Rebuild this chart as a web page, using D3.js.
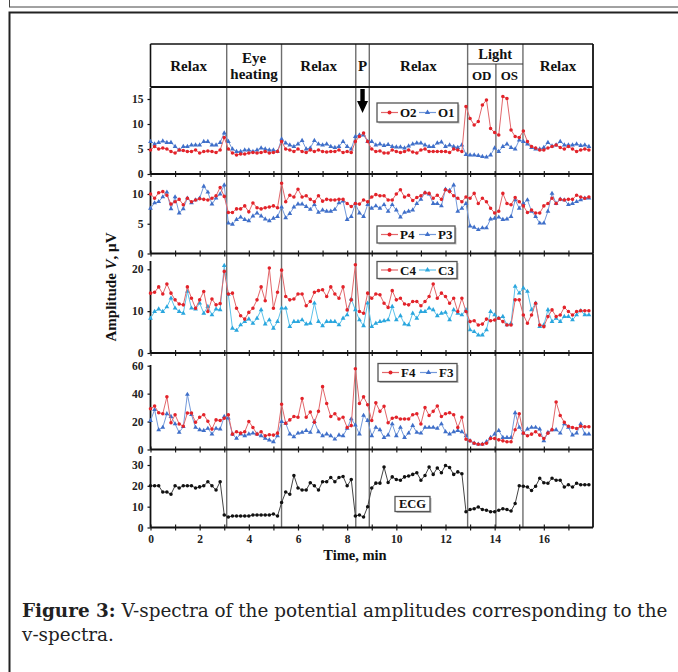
<!DOCTYPE html>
<html><head><meta charset="utf-8">
<script src="https://cdn.jsdelivr.net/npm/d3@7"></script>
<style>
html,body{margin:0;padding:0;background:#fff;}
svg{display:block;}
</style></head>
<body>
<svg id="chart" width="678" height="672"></svg>
<script>
// ---------------- DATA ----------------
const dt = 1/6; // sampling interval (min)
const O2 = [4.8,5.5,5,5.2,5,4.5,4.2,4.8,4.7,4.5,4.5,4.8,4.2,4.5,4.6,4.5,4.3,4.8, 7.3,
  5,4.2,3.8,4,4,4.2,4.3,4.2,4.3,4.5,4.2,4.3,4.5, 6.5,
  5,4.8,4.5,5,4.5,4.3,4.8,4.5,4.8,4.5,4.4,4.5,4.5,4.8,4.3,4.5,4.3, 6.5,7.5,8.2, 6.5,
  5,4.5,4.6,4.2,4.2,4.8,4.5,4.3,4.5,4.8,4.4,4.2,4.8,5,4.5,4.5,4.5,4.5,4.5,4.3,5,4.8,4.5,
  13.5,11.1,9.8,10.5,13.8,14.8,9.1, 8.3,7.8,15.5,15.1,8.8,7.5, 7.3,
  8.6,6.5,5.5,5.2,4.8,4.8,5.2,5.5,5.8,5.3,5,5.5,5,4.5,4.8,5,4.8];
const O1 = [6.5,6,6.3,6.6,6.3,6.3,5.5,4.8,5.5,5.5,5.8,5.8,5.8,6.5,6.5,5.8,5.8,6.3, 8.2,
  6.5,5,4.5,4.5,4.8,4.8,4.5,4.8,5.2,5,4.8,4.8,4.5, 7,
  6.2,5.8,5.5,6,6.7,5,5.2,6.7,6,5.8,6,5.5,5.3,5.5,6.5,5.5,5, 7.5,7.8,7.8, 6.5,
  6.5,5.8,6,5.7,5.9,5.5,5.4,5.4,5.2,5.6,6,6.2,6.2,5.8,5.5,5.5,6.2,6.4,5.5,5.8,5.5,5.3,5.8,
  3.9,3.8,3.8,3.7,3.5,3.4,3.8, 5.2,4.5,5.5,6,5.3,5, 6.8,
  6.5,6,5.3,5,5,5.3,6.3,5.6,5.8,6.5,5.8,5.8,5.8,6,5.7,5.8,5.5];
const P4 = [10,9.3,10.2,10.4,9.8,8.3,8.7,9.1,8.2,9.3,8.7,9,9.2,9.1,9,9.3,9.7,11.1, 9.6,
  6.9,6.9,7.5,7.5,8,7,8.5,7.7,7.5,7.7,7.8,8,7.7, 11.8,
  8.7,9.8,9.5,10.8,9.5,9.7,9.1,8.7,9.7,8.8,9.1,9,9,9.1,9.1,8.4,7.9, 8.4,8.3,9, 8.7,
  9.5,9.9,9.7,9.7,9,9,10,10.7,9.5,9.8,8.9,9.4,9.7,10.2,10.1,9.3,9.8,9.1,10.7,10.4,9.7,9.3,8.7,
  9.5,9.3,10.1,8.4,9.3,8.7,7.6, 6.8,7.1,10.1,8.4,8.2,9.4, 8.7,
  8,6.9,7.3,6.8,6.8,8,8.4,9.3,8.4,9.1,9,9.1,9.1,9.8,9.5,9.3,9.5];
const P3 = [7.6,8.5,8.7,9.5,10.3,7.5,9.5,6.8,7.5,9.3,8.5,9,9.3,11.3,10.3,8.3,9.3,10, 11.5,
  5.1,4.9,5.7,6.1,5.7,5.5,6.3,6.8,6.3,5.8,5.5,5.9,6.2, 7.8,
  6,6.7,7.8,8.3,8.3,7.9,7.4,8.2,6.9,7.3,7.1,7.1,7.4,8.5,8.8,5.7,6.2, 8.4,6.8,6.2, 8.2,
  7.6,8,7.6,8.2,7.1,8.2,7.3,6.1,6.9,7.1,7.3,8.4,9.1,10.2,10,8.4,8.4,8,10.8,10.6,11.5,7.1,7.6,
  8.4,4.6,4.4,4,4.3,4.3,5.8, 5.9,6.1,5.7,5.8,6.2,9, 7.6,
  8.4,9,7.1,6.2,5.1,5.1,7.1,10.1,8.4,9.1,9,8.2,8.4,8.7,9,9.3,9.3];
const C4 = [14.3,14.5,15.8,14.1,16.5,14.3,12.7,11.7,11.5,15.8,13.1,10.7,12.7,14.7,9.9,12.9,11.5,11.8, 19.5,
  14.1,14.3,10.7,8.9,8.1,9.7,10.7,12.7,15.8,12.5,20.3,10.7,14.5, 19.8,
  13.5,12.7,12.9,14.1,14.1,11.3,12.3,14.5,14.9,15.1,13.5,15.8,14.1,13.1,15.8,10.3,12.7, 21.1,9.9,9.5, 14.3,
  13.1,14.1,13.9,11.9,10.9,14.9,12.7,13.1,11.7,11.5,12.3,12.3,11.3,12.3,13.5,16.5,13.1,14.3,13.5,11.9,13.1,9.9,13.1,
  9.9,7.5,7.7,6.7,6.9,8.1,7.7, 7.9,8.3,7.5,6.7,6.7,12.7, 12.7,
  9.1,7.1,9.1,11.9,6.7,6.3,8.7,10.3,8.7,9.1,10.9,9.9,9.1,9.9,10.1,10.1,10.1];
const C3 = [8.3,9.9,10.5,9.9,11,13.1,10.7,9.9,9.5,14.7,10.7,10.5,11.9,9.5,11.1,9.1,10.5,10.3, 20.9,
  14,5.9,5.4,6.7,7.5,8.1,7.1,8.3,10.3,6.9,7.9,5.9,7.5, 10.7,
  10.7,6.3,7.5,7.5,7.9,6.9,7.1,11.9,7.5,6.5,7.5,7.5,7.5,6.7,8.3,9.1,12.9, 10.3,7.9,6.5, 11.9,
  6.3,7.1,7.5,7.7,7.9,11.1,7.9,8.9,6.9,6.7,9.5,8.3,9.9,9.9,10.7,10.3,8.9,9.5,9.7,7.9,10.3,9.5,9.1,
  10.3,5.5,5.1,4.3,4.3,5.5,9.9, 9.1,8.3,8.7,6.7,7.1,15.9, 14.3,
  15.5,14.7,10.3,11.9,6.3,6.7,10.3,7.5,8.3,7.5,8.7,8.7,7.9,9.1,10.1,9.1,9.1];
const F4 = [29.2,31.1,26.3,25.6,37.7,19.1,24.9,18.3,16.6,26.1,26.1,19.5,23.1,24.9,20.2,14.6,21.2,20.7, 22.4,
  24.9,11,12.7,11.7,12.7,20,15.8,11,12.7,9.8,10.5,10.3,11.7, 32.4,
  18.8,21.2,23.6,23.1,36.5,23.1,26.8,19.5,27.3,45,32.9,23.6,25.6,21.9,23.1,15.8,17.1, 57.8,32.9,37.7, 32.1,
  20.7,33.4,27.3,30.9,19.1,22.4,23.1,21.9,21.9,21.9,24.9,25.6,18.3,30,24.4,27.3,31.1,23.6,25.6,26.3,24.9,15.8,23.1,
  7.4,6.2,4.5,3.8,3.8,4.5,7.9, 7.9,6.9,6.2,5.5,5.5,14.1, 25.6,
  11.7,9.8,11,12.7,10.3,7.9,11.7,14.1,34,24.4,19.5,16.6,15.8,15.1,16.6,16.3,16.3];
const F3 = [20.7,28.5,14.1,15.8,25.6,23.6,18.3,12.2,16.3,39.4,24.9,15.8,14.1,13.5,15.1,11,15.1,14.6, 23.6,
  22.4,11,7.9,11,9.8,11,11.7,11,9.8,7.9,6.7,5.5,9.8, 20,
  18.8,11,9.1,11.7,12.2,13.5,12.2,20,12.7,9.8,11,9.8,7.4,10.3,9.8,15.1,21.9, 17.5,11,24.4, 20.7,
  9.8,15.8,14.1,8.6,10.3,18.3,9.8,15.8,8.6,11.7,17.1,12.2,11.7,15.8,15.8,15.8,15.1,18.3,12.7,11,12.7,13.5,12.7,
  9.8,6.2,4.5,3.8,3.8,5.5,8.6, 11,13.5,8.6,8.6,8.6,26.3, 15.8,
  11.7,14.6,15.8,15.8,14.6,6.2,12.2,14.1,14.1,11.7,18.3,15.8,10.3,11.7,18.3,11,11];
const ECG = [20,20,20,17,17,16,20,19,20,20,20,19,19.5,20,22,20,18,22, 6,
  5,5.5,5.5,5.5,5.5,5.5,6,6,6,6,6,6.5,5.5, 12,
  17,16,25,19,18,18,21.5,20,18,22,22,24,22,24,24.5,20,23, 5.5,6,5, 10,
  19,21.3,21.3,29,21.6,24.3,23,22.7,24.3,24.7,25.5,26.3,22.7,25,29,25.5,28.6,26.3,29.8,28.8,25.5,26.7,25.8,
  7.6,8.6,9,9.8,8.6,8.3,7.6, 7.6,8.3,9,8.6,7.9,11.5, 20,
  19.8,19.4,17.8,19.8,23.6,21.5,21.2,23.6,22.7,22.7,19.4,20.5,19.4,21.2,20.5,20.5,20.5];

const dividers = [3.1, 5.33, 8.35, 8.9, 12.9, 14.05, 15.15];
const headerCells = [
  {text:["Relax"], from:0, to:3.1, row:"full"},
  {text:["Eye","heating"], from:3.1, to:5.33, row:"full"},
  {text:["Relax"], from:5.33, to:8.35, row:"full"},
  {text:["P"], from:8.35, to:8.9, row:"full"},
  {text:["Relax"], from:8.9, to:12.9, row:"full"},
  {text:["Light"], from:12.9, to:15.15, row:"top"},
  {text:["OD"], from:12.9, to:14.05, row:"bottom"},
  {text:["OS"], from:14.05, to:15.15, row:"bottom"},
  {text:["Relax"], from:15.15, to:18, row:"full"}
];
const xTickLabels = [0,2,4,6,8,10,12,14,16];
const xMinorTicks = d3.range(0, 18, 1);

const panels = [
  {series:[{name:"O2", data:O2, kind:"red"}, {name:"O1", data:O1, kind:"blue"}], ticks:[0,5,10,15]},
  {series:[{name:"P4", data:P4, kind:"red"}, {name:"P3", data:P3, kind:"blue"}], ticks:[0,5,10]},
  {series:[{name:"C4", data:C4, kind:"red"}, {name:"C3", data:C3, kind:"cyan"}], ticks:[0,10,20]},
  {series:[{name:"F4", data:F4, kind:"red"}, {name:"F3", data:F3, kind:"blue"}], ticks:[0,20,40,60]},
  {series:[{name:"ECG", data:ECG, kind:"black"}], ticks:[0,10,20,30]}
];

// ---------------- LAYOUT ----------------
const L = {
  x0:150.5, x1:593,
  headTop:44, headMid:64, headBot:87,
  panel:[
    {top:87, axisTop:88, bottom:174, tickMaxY:99},
    {top:174, axisTop:181, bottom:253.5, tickMaxY:194},
    {top:253.5, axisTop:261, bottom:353, tickMaxY:269.3},
    {top:353, axisTop:365, bottom:449.5, tickMaxY:365.7},
    {top:449.5, axisTop:456, bottom:527.5, tickMaxY:465}
  ],
  legend:[
    {x:377, y:103, w:81, h:19},
    {x:377, y:226, w:78, h:17},
    {x:377, y:261.5, w:80, h:17},
    {x:378, y:363.5, w:79, h:18},
    {x:395, y:496.5, w:35, h:15}
  ]
};
const style = {
  red:{line:"#e2676b", mark:"#e3232a", sym:"circle"},
  blue:{line:"#7399da", mark:"#3f6fc9", sym:"triangle"},
  cyan:{line:"#5cc2ea", mark:"#2aa6de", sym:"triangle"},
  black:{line:"#444", mark:"#111", sym:"circle"}
};
const serif = "'Liberation Serif','Times New Roman',serif";

const svg = d3.select("#chart");

// outer page frames
svg.append("rect").attr("x",9.5).attr("y",-20).attr("width",700).attr("height",27)
  .attr("fill","none").attr("stroke","#444").attr("stroke-width",1);
svg.append("rect").attr("x",9.5).attr("y",12.5).attr("width",700).attr("height",700)
  .attr("fill","none").attr("stroke","#222").attr("stroke-width",2);

const x = d3.scaleLinear().domain([0,18]).range([L.x0, L.x1]);

// dividers (gray)
const divG = svg.append("g");
dividers.forEach(d => {
  const top = (d === 14.05) ? L.headMid : L.headTop;
  divG.append("line").attr("x1",x(d)).attr("x2",x(d)).attr("y1",top).attr("y2",L.panel[4].bottom)
    .attr("stroke","#6e6e6e").attr("stroke-width",1.4);
});

// header table
const hd = svg.append("g");
hd.append("line").attr("x1",x(0)).attr("x2",x(18)).attr("y1",L.headTop).attr("y2",L.headTop).attr("stroke","#111").attr("stroke-width",1.6);
hd.append("line").attr("x1",x(12.9)).attr("x2",x(15.15)).attr("y1",L.headMid).attr("y2",L.headMid).attr("stroke","#333").attr("stroke-width",1.2);
hd.append("line").attr("x1",x(0)).attr("x2",x(0)).attr("y1",L.headTop).attr("y2",L.headBot).attr("stroke","#111").attr("stroke-width",1.6);
headerCells.forEach(c => {
  const cx = (x(c.from)+x(c.to))/2;
  let cy;
  if (c.row==="full") cy = (L.headTop+L.headBot)/2;
  else if (c.row==="top") cy = (L.headTop+L.headMid)/2;
  else cy = (L.headMid+L.headBot)/2;
  const fs = c.row==="full" ? 15 : (c.row==="top"?14.5:13);
  const n = c.text.length;
  c.text.forEach((t,k) => {
    hd.append("text").attr("x",cx).attr("y",cy + (k-(n-1)/2)*16.5)
      .attr("dy","0.35em").attr("text-anchor","middle")
      .attr("font-family",serif).attr("font-weight","bold").attr("font-size",fs)
      .attr("fill","#111").text(t);
  });
});

// panels
panels.forEach((p,pi) => {
  const g = L.panel[pi];
  const tmax = p.ticks[p.ticks.length-1];
  const y = d3.scaleLinear().domain([0,tmax]).range([g.bottom, g.tickMaxY]);
  const pg = svg.append("g");

  // minor x ticks
  const xt = d3.axisBottom(x).tickValues(xMinorTicks).tickSize(6).tickFormat("");
  const xtg = pg.append("g").attr("transform",`translate(0,${g.bottom-3})`).call(xt);
  xtg.select(".domain").remove();
  xtg.selectAll("line").attr("stroke","#222").attr("stroke-width",1.2);

  // separator / bottom line
  pg.append("line").attr("x1",x(0)).attr("x2",x(18)).attr("y1",g.bottom).attr("y2",g.bottom)
    .attr("stroke","#111").attr("stroke-width",1.8);
  // right border
  pg.append("line").attr("x1",x(18)).attr("x2",x(18)).attr("y1",(pi===0?L.headTop:g.top)).attr("y2",g.bottom)
    .attr("stroke","#111").attr("stroke-width",1.8);

  // y axis
  const ya = d3.axisLeft(y).tickValues(p.ticks).tickSize(3).tickPadding(4).tickFormat(d3.format("d"));
  const yg = pg.append("g").attr("transform",`translate(${x(0)},0)`).call(ya);
  yg.select(".domain").remove();
  yg.selectAll("line").attr("stroke","#111").attr("stroke-width",1.2);
  yg.selectAll("text").attr("font-family",serif).attr("font-weight","bold").attr("font-size",11.5).attr("fill","#222");
  pg.append("line").attr("x1",x(0)).attr("x2",x(0)).attr("y1",g.axisTop).attr("y2",g.bottom)
    .attr("stroke","#111").attr("stroke-width",1.8);

  // series
  const order = p.series.slice().reverse();
  order.forEach(s => {
    const st = style[s.kind];
    const pts = s.data.map((v,i) => [i*dt, v]);
    const line = d3.line().x(d=>x(d[0])).y(d=>y(d[1]));
    pg.append("path").attr("d",line(pts)).attr("fill","none")
      .attr("stroke",st.line).attr("stroke-width",1);
    const sym = d3.symbol().type(st.sym==="circle"?d3.symbolCircle:d3.symbolTriangle)
      .size(st.sym==="circle"?10:10);
    pg.selectAll(null).data(pts).enter().append("path")
      .attr("transform",d=>`translate(${x(d[0])},${y(d[1])})`)
      .attr("d",sym).attr("fill",st.mark);
  });

  // legend
  const lg = L.legend[pi];
  const leg = pg.append("g");
  leg.append("rect").attr("x",lg.x+1.5).attr("y",lg.y+1.5).attr("width",lg.w).attr("height",lg.h)
    .attr("fill","#bbb");
  leg.append("rect").attr("x",lg.x).attr("y",lg.y).attr("width",lg.w).attr("height",lg.h)
    .attr("fill","#fff").attr("stroke","#555").attr("stroke-width",1.3);
  const cy = lg.y + lg.h/2;
  if (p.series.length===1) {
    leg.append("text").attr("x",lg.x+lg.w/2).attr("y",cy).attr("dy","0.35em").attr("text-anchor","middle")
      .attr("font-family",serif).attr("font-weight","bold").attr("font-size",12.5).attr("fill","#111")
      .text(p.series[0].name);
  } else {
    p.series.forEach((s,k) => {
      const st = style[s.kind];
      const bx = lg.x + 4 + k*38;
      leg.append("line").attr("x1",bx).attr("x2",bx+17).attr("y1",cy).attr("y2",cy)
        .attr("stroke",st.line).attr("stroke-width",1.2);
      const sym = d3.symbol().type(st.sym==="circle"?d3.symbolCircle:d3.symbolTriangle).size(12);
      leg.append("path").attr("transform",`translate(${bx+8.5},${cy})`).attr("d",sym).attr("fill",st.mark);
      leg.append("text").attr("x",bx+19).attr("y",cy).attr("dy","0.35em")
        .attr("font-family",serif).attr("font-weight","bold").attr("font-size",13).attr("fill","#111")
        .text(s.name);
    });
  }
});

// header bottom line
svg.append("line").attr("x1",x(0)).attr("x2",x(18)).attr("y1",L.headBot).attr("y2",L.headBot)
  .attr("stroke","#111").attr("stroke-width",1.8);

// arrow in P region
const ax = x((8.35+8.9)/2);
svg.append("path").attr("d",`M${ax-2.2},89 L${ax+2.2},89 L${ax+2.2},101 L${ax+5.5},101 L${ax},113 L${ax-5.5},101 L${ax-2.2},101 Z`)
  .attr("fill","#000");

// x axis labels
const xa = d3.axisBottom(x).tickValues(xTickLabels).tickSize(0).tickPadding(7).tickFormat(d3.format("d"));
const xg = svg.append("g").attr("transform",`translate(0,${L.panel[4].bottom})`).call(xa);
xg.select(".domain").remove();
xg.selectAll("text").attr("font-family",serif).attr("font-weight","bold").attr("font-size",11.5).attr("fill","#222");

svg.append("text").attr("x",355).attr("y",560).attr("text-anchor","middle")
  .attr("font-family",serif).attr("font-weight","bold").attr("font-size",14.5).attr("fill","#111")
  .text("Time, min");

const yl = svg.append("text").attr("transform","translate(116,287) rotate(-90)").attr("text-anchor","middle")
  .attr("font-family",serif).attr("font-weight","bold").attr("font-size",15).attr("fill","#111");
yl.append("tspan").text("Amplitude ");
yl.append("tspan").attr("font-style","italic").text("V");
yl.append("tspan").text(", μV");

// caption
const capFont = "'DejaVu Serif',serif";
const cap = svg.append("text").attr("x",22).attr("y",617)
  .attr("font-family",capFont).attr("font-size",16.5).attr("fill","#222");
cap.append("tspan").attr("font-weight","bold").text("Figure 3:");
cap.append("tspan").text(" V-spectra of the potential amplitudes corresponding to the");
const cap2 = svg.append("text").attr("x",22).attr("y",641)
  .attr("font-family",capFont).attr("font-size",16.5).attr("fill","#222")
  .text("v-spectra.");
// fit first caption line to the reference width (~646 px)
const w0 = cap.node().getComputedTextLength();
const fs = 16.5 * 646 / w0;
cap.attr("font-size", fs);
cap2.attr("font-size", fs);
</script>
</body></html>
